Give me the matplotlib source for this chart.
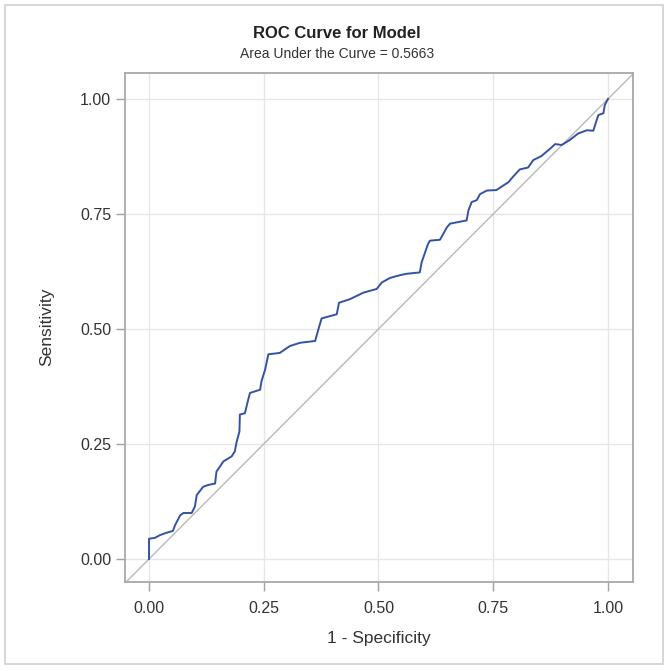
import matplotlib.pyplot as plt
from matplotlib.patches import Rectangle

# ROC curve points (1 - specificity, sensitivity)
fpr = [0.0, 0.0, 0.013, 0.024, 0.038, 0.052, 0.057, 0.068, 0.075, 0.093, 0.100,
       0.104, 0.118, 0.129, 0.144, 0.147, 0.162, 0.180, 0.187, 0.191, 0.197,
       0.198, 0.209, 0.216, 0.220, 0.242, 0.245, 0.253, 0.260, 0.285, 0.307,
       0.329, 0.362, 0.369, 0.376, 0.409, 0.414, 0.438, 0.467, 0.496, 0.507,
       0.525, 0.547, 0.561, 0.590, 0.594, 0.608, 0.612, 0.634, 0.649, 0.656,
       0.692, 0.696, 0.703, 0.714, 0.721, 0.736, 0.757, 0.772, 0.783, 0.794,
       0.808, 0.826, 0.837, 0.855, 0.874, 0.885, 0.899, 0.917, 0.935, 0.954,
       0.968, 0.974, 0.979, 0.990, 0.993, 1.0]
tpr = [0.0, 0.044, 0.046, 0.052, 0.057, 0.061, 0.074, 0.095, 0.100, 0.100, 0.114,
       0.139, 0.157, 0.161, 0.164, 0.190, 0.212, 0.223, 0.234, 0.255, 0.277,
       0.314, 0.317, 0.346, 0.361, 0.368, 0.386, 0.412, 0.445, 0.448, 0.463,
       0.470, 0.474, 0.499, 0.523, 0.532, 0.557, 0.565, 0.579, 0.587, 0.601,
       0.611, 0.617, 0.620, 0.623, 0.645, 0.685, 0.692, 0.694, 0.721, 0.729,
       0.736, 0.758, 0.776, 0.780, 0.793, 0.801, 0.802, 0.812, 0.819, 0.832,
       0.847, 0.851, 0.867, 0.876, 0.892, 0.902, 0.900, 0.911, 0.925, 0.932,
       0.931, 0.950, 0.965, 0.969, 0.987, 1.0]
ticks = [0.0, 0.25, 0.5, 0.75, 1.0]
tick_labels = ['0.00', '0.25', '0.50', '0.75', '1.00']
auc = 0.5663

plt.rcParams['font.family'] = ['Liberation Sans', 'DejaVu Sans']

W, H = 672, 671
fig = plt.figure(figsize=(W / 100, H / 100), dpi=100)
ax = fig.add_axes([125 / W, 1 - 582 / H, 508 / W, 509 / H])

# outer frame around the whole graph
fig.patches.append(Rectangle((5 / W, 1 - 664 / H), 658 / W, 659 / H,
                             transform=fig.transFigure, fill=False,
                             edgecolor='#d0d0d0', linewidth=1.2))

xmin, xmax = -0.0523, 1.0545
ax.set_xlim(xmin, xmax)
ax.set_ylim(-0.05, 1.0565)
ax.grid(True, color='#e6e6e6', linewidth=1.0)
ax.set_axisbelow(True)

# reference diagonal
ax.plot([xmin, xmax], [xmin, xmax], color='#b8b8b8', linewidth=1.0)
ax.plot(fpr, tpr, color='#3552a3', linewidth=1.4)

ax.set_xticks(ticks)
ax.set_xticklabels(tick_labels)
ax.set_yticks(ticks)
ax.set_yticklabels(tick_labels)
ax.tick_params(colors='#a0a0a0', labelcolor='#333333', labelsize=11.5,
               length=6.5, width=1)
ax.tick_params(axis='x', pad=7)
ax.tick_params(axis='y', pad=3.5)
for s in ax.spines.values():
    s.set_color('#a8a8a8')
    s.set_linewidth(1.3)

fig.text(379 / W, 1 - 638 / H, '1 - Specificity', ha='center', va='center',
         fontsize=12.5, color='#333333')
fig.text(47 / W, 1 - 327 / H, 'Sensitivity', ha='center', va='center',
         rotation=90, fontsize=12.5, color='#333333')

fig.text(337 / W, 1 - 33 / H, 'ROC Curve for Model', ha='center', va='center',
         fontsize=12, fontweight='bold', color='#222222')
fig.text(337 / W, 1 - 54 / H, 'Area Under the Curve = %.4f' % auc, ha='center',
         va='center', fontsize=10, color='#333333')

fig.savefig('out.png', dpi=100)
